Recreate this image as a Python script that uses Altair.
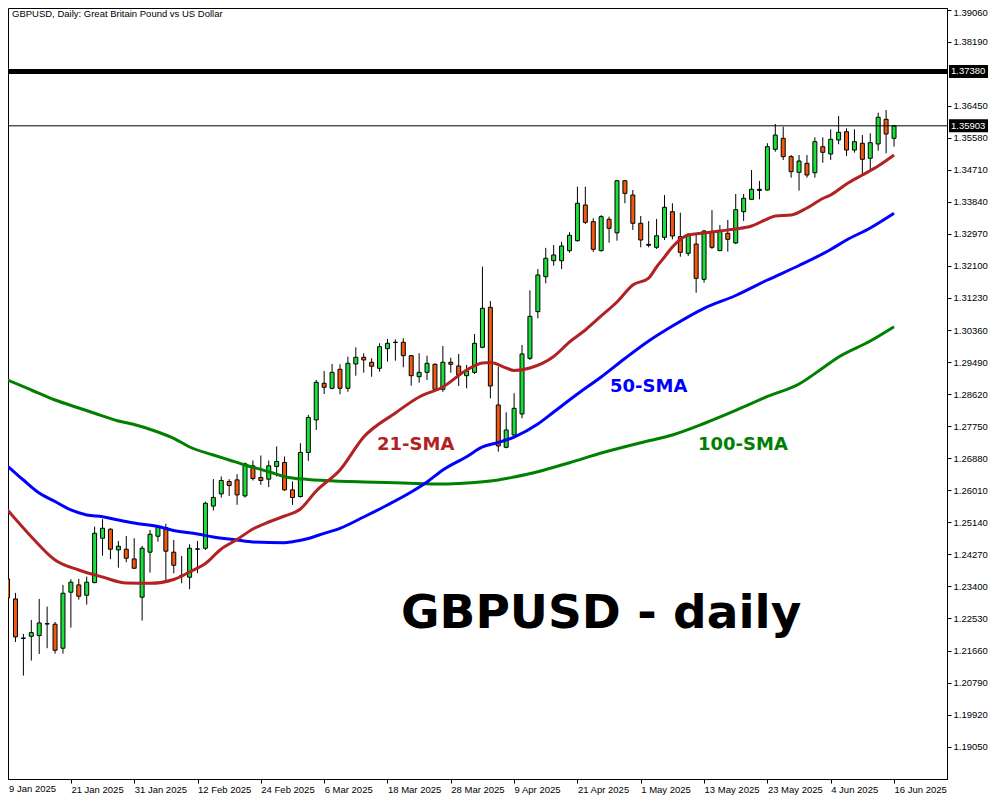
import altair as alt
import pandas as pd

# ---------------- data ----------------
date_labels = ["9 Jan 2025", "21 Jan 2025", "31 Jan 2025", "12 Feb 2025", "24 Feb 2025",
               "6 Mar 2025", "18 Mar 2025", "28 Mar 2025", "9 Apr 2025", "21 Apr 2025",
               "1 May 2025", "13 May 2025", "23 May 2025", "4 Jun 2025", "16 Jun 2025"]

opens = [1.23604, 1.23061, 1.21990, 1.22046, 1.22065, 1.22380, 1.22374, 1.21723, 1.23243, 1.23441,
         1.23161, 1.23503, 1.24708, 1.24953, 1.24391, 1.24410, 1.24146, 1.23107, 1.24330, 1.24763,
         1.24998, 1.24330, 1.23700, 1.23650, 1.24410, 1.24437, 1.25582, 1.25912, 1.26248, 1.26292,
         1.25858, 1.26673, 1.26358, 1.26312, 1.26656, 1.26765, 1.26022, 1.25841, 1.27036, 1.27920,
         1.28914, 1.28778, 1.29294, 1.28778, 1.29438, 1.29620, 1.29485, 1.29321, 1.29854, 1.30020,
         1.30027, 1.29664, 1.29093, 1.29212, 1.29430, 1.28751, 1.29485, 1.29384, 1.29120, 1.29212,
         1.29891, 1.30977, 1.28325, 1.27177, 1.27511, 1.28081, 1.29592, 1.30858, 1.31808, 1.32242,
         1.32242, 1.32514, 1.32785, 1.33754, 1.33302, 1.32514, 1.33366, 1.32998, 1.34413, 1.34025,
         1.33257, 1.32685, 1.32605, 1.32876, 1.33572, 1.32894, 1.32442, 1.32695, 1.31737, 1.33030,
         1.32514, 1.32985, 1.32722, 1.33572, 1.33908, 1.34150, 1.34161, 1.35266, 1.35564, 1.35065,
         1.34641, 1.34885, 1.34630, 1.35336, 1.35138, 1.35518, 1.35743, 1.35246, 1.35429, 1.35021,
         1.35410, 1.36080, 1.35564]
highs = [1.23658, 1.23224, 1.22111, 1.22491, 1.23061, 1.22852, 1.22437, 1.23441, 1.23595, 1.23604,
         1.23666, 1.25023, 1.25224, 1.24980, 1.24635, 1.24771, 1.24708, 1.24500, 1.24933, 1.25070,
         1.25100, 1.24662, 1.24228, 1.24545, 1.24635, 1.25700, 1.26314, 1.26384, 1.26311, 1.26446,
         1.26765, 1.26819, 1.26955, 1.26819, 1.27199, 1.26928, 1.26248, 1.27288, 1.28057, 1.29004,
         1.29248, 1.29438, 1.29430, 1.29637, 1.29891, 1.29729, 1.29593, 1.30000, 1.30117, 1.30108,
         1.30135, 1.29683, 1.29729, 1.29664, 1.29457, 1.29927, 1.29610, 1.29710, 1.29411, 1.30253,
         1.32079, 1.31148, 1.29365, 1.28127, 1.28643, 1.29954, 1.31438, 1.32017, 1.32590, 1.32668,
         1.32758, 1.33013, 1.34250, 1.34250, 1.33393, 1.33480, 1.33438, 1.34430, 1.34430, 1.34161,
         1.33456, 1.33316, 1.33374, 1.34025, 1.33800, 1.33545, 1.32985, 1.32940, 1.33076, 1.33615,
         1.33211, 1.33347, 1.34052, 1.34052, 1.34704, 1.34406, 1.35429, 1.35953, 1.35879, 1.35110,
         1.35110, 1.35110, 1.35591, 1.35591, 1.35808, 1.36169, 1.35836, 1.35808, 1.35654, 1.35700,
         1.36259, 1.36332, 1.35925]
lows = [1.23034, 1.21894, 1.20980, 1.21386, 1.21568, 1.21723, 1.21576, 1.21576, 1.22282, 1.23042,
        1.22906, 1.23487, 1.24236, 1.24138, 1.23910, 1.24057, 1.23875, 1.22472, 1.23774, 1.24616,
        1.23576, 1.23757, 1.23487, 1.23324, 1.23757, 1.24390, 1.25460, 1.25814, 1.25858, 1.25617,
        1.25814, 1.26276, 1.26157, 1.26095, 1.26384, 1.25995, 1.25613, 1.25814, 1.26808, 1.27647,
        1.28624, 1.28751, 1.28615, 1.28683, 1.29120, 1.29202, 1.29093, 1.29229, 1.29501, 1.29528,
        1.29349, 1.28849, 1.28931, 1.29004, 1.28733, 1.28683, 1.29202, 1.28841, 1.28778, 1.29166,
        1.29864, 1.28507, 1.27058, 1.27150, 1.27484, 1.27965, 1.29547, 1.30679, 1.31628, 1.32106,
        1.32017, 1.32459, 1.32758, 1.33238, 1.32480, 1.32487, 1.32730, 1.32785, 1.33800, 1.33076,
        1.32605, 1.32605, 1.32560, 1.32804, 1.32822, 1.32350, 1.32369, 1.31374, 1.31645, 1.32560,
        1.32505, 1.32487, 1.32695, 1.33320, 1.33890, 1.33908, 1.34143, 1.35201, 1.34975, 1.34495,
        1.34143, 1.34495, 1.34495, 1.34901, 1.34976, 1.35402, 1.35084, 1.35174, 1.34595, 1.34685,
        1.35228, 1.35157, 1.35336]
closes = [1.23088, 1.22030, 1.22000, 1.22146, 1.22409, 1.22390, 1.21668, 1.23215, 1.23514, 1.23134,
          1.23514, 1.24844, 1.24980, 1.24410, 1.24491, 1.24165, 1.23894, 1.24437, 1.24817, 1.25007,
          1.24357, 1.23975, 1.23690, 1.24437, 1.24420, 1.25658, 1.25816, 1.26276, 1.26140, 1.25885,
          1.26727, 1.26331, 1.26276, 1.26673, 1.26792, 1.26022, 1.25814, 1.27036, 1.27986, 1.28941,
          1.28805, 1.29212, 1.28778, 1.29457, 1.29620, 1.29547, 1.29376, 1.29908, 1.30000, 1.30030,
          1.29664, 1.29120, 1.29212, 1.29457, 1.28751, 1.29485, 1.29430, 1.29140, 1.29248, 1.30000,
          1.30950, 1.28841, 1.27213, 1.27647, 1.28235, 1.29710, 1.30732, 1.31854, 1.32307, 1.32397,
          1.32641, 1.32931, 1.33800, 1.33284, 1.32551, 1.33438, 1.33122, 1.34413, 1.34070, 1.33257,
          1.32804, 1.32660, 1.32920, 1.33691, 1.32912, 1.32469, 1.32958, 1.31764, 1.33048, 1.32605,
          1.33048, 1.32822, 1.33626, 1.33936, 1.34180, 1.34180, 1.35336, 1.35654, 1.35065, 1.34658,
          1.34948, 1.34568, 1.35472, 1.35184, 1.35537, 1.35727, 1.35246, 1.35472, 1.34994, 1.35445,
          1.36135, 1.35681, 1.35903]

sma21_bar = [0, 3, 6, 9, 12, 15, 18, 21, 23, 25, 27, 29, 31, 33, 35, 37, 39, 42, 45, 49, 52, 55,
             58, 60, 61, 63, 64, 66, 69, 71, 73, 75, 77, 79, 81, 82, 83, 84, 86, 88, 90, 92, 94, 96,
             97, 99, 101, 103, 104, 106, 108, 110, 112]
sma21_val = [1.25475, 1.24750, 1.24118, 1.23846, 1.23656, 1.23493, 1.23485, 1.23588, 1.23792,
             1.24023, 1.24416, 1.24674, 1.24959, 1.25149, 1.25312, 1.25502, 1.25991, 1.26561,
             1.27456, 1.28108, 1.28542, 1.28814, 1.29275, 1.29465, 1.29479, 1.29329, 1.29261,
             1.29329, 1.29641, 1.30035, 1.30361, 1.30741, 1.31121, 1.31582, 1.31772, 1.32071,
             1.32342, 1.32614, 1.32939, 1.32994, 1.33048, 1.33102, 1.33184, 1.33374, 1.33455,
             1.33482, 1.33672, 1.33930, 1.34025, 1.34324, 1.34568, 1.34812, 1.35111]

sma50_bar = [0, 2, 4, 6, 8, 10, 12, 14, 16, 19, 21, 24, 26, 29, 31, 35, 36, 38, 40, 42, 45, 48,
             51, 53, 55, 58, 60, 62, 64, 67, 69, 72, 75, 78, 81, 84, 88, 92, 96, 100, 104, 106,
             109, 112]
sma50_val = [1.26669, 1.26289, 1.25936, 1.25706, 1.25475, 1.25339, 1.25293, 1.25203, 1.25122,
             1.25027, 1.24919, 1.24824, 1.24742, 1.24661, 1.24606, 1.24587, 1.24614, 1.24701,
             1.24842, 1.24978, 1.25285, 1.25611, 1.25963, 1.26235, 1.26561, 1.26922, 1.27185,
             1.27307, 1.27456, 1.27809, 1.28135, 1.28624, 1.29085, 1.29587, 1.30062, 1.30469,
             1.30950, 1.31297, 1.31718, 1.32111, 1.32546, 1.32804, 1.33129, 1.33528]

sma100_bar = [0, 3, 6, 9, 11, 14, 16, 19, 21, 23, 26, 28, 30, 33, 35, 38, 40, 45, 50, 55, 58, 62,
              64, 67, 71, 75, 80, 84, 88, 92, 96, 100, 103, 105, 109, 112]
sma100_val = [1.29003, 1.28732, 1.28461, 1.28244, 1.28100, 1.27891, 1.27796, 1.27592, 1.27421,
              1.27185, 1.26968, 1.26832, 1.26696, 1.26514, 1.26379, 1.26303, 1.26276, 1.26235,
              1.26208, 1.26181, 1.26208, 1.26289, 1.26371, 1.26514, 1.26759, 1.27022, 1.27302,
              1.27511, 1.27823, 1.28176, 1.28556, 1.28895, 1.29329, 1.29628, 1.30062, 1.30450]

y_tick_values = [1.19050, 1.19920, 1.20790, 1.21660, 1.22530, 1.23400, 1.24270, 1.25140,
                 1.26010, 1.26880, 1.27750, 1.28620, 1.29490, 1.30360, 1.31230, 1.32100,
                 1.32970, 1.33840, 1.34710, 1.35580, 1.36450, 1.38190, 1.39060]

level_line = [1.37380]
last_price = [1.35903]

# ---------------- styling ----------------
W, H = 939, 771
AXFONT = "Liberation Sans"
BULL, BEAR = "#19E03A", "#F2580F"

xs = alt.Scale(domain=[0.6875, 0.6875 + W / 8], nice=False, zero=False)
ys = alt.Scale(domain=[1.18173, 1.39101], nice=False, zero=False)

label_js = "[" + ",".join("'" + d + "'" for d in date_labels) + "]"
x_axis = alt.Axis(values=list(range(8, 8 * len(date_labels), 8)),
                  labelExpr=label_js + "[round(datum.value/8)]",
                  orient="bottom", title=None, grid=False, tickSize=4, labelAlign="left",
                  labelPadding=1, labelOverlap=False, labelBound=False,
                  labelFlush=False, labelFont=AXFONT, labelFontSize=9.5, labelColor="black",
                  domainColor="black", tickColor="black")
y_axis = alt.Axis(values=y_tick_values, format=".5f", orient="right", title=None, grid=False,
                  tickSize=4, labelPadding=2, labelOverlap=False, labelBound=False,
                  labelFont=AXFONT, labelFontSize=9.5, labelColor="black",
                  labelBaseline="middle", domainColor="black", tickColor="black",
                  labelOffset={"condition": {"test": "datum.value > 1.39", "value": 3},
                               "value": 0})

candles = pd.DataFrame({"bar": list(range(len(opens))), "open": opens, "high": highs,
                        "low": lows, "close": closes})
candles["dir"] = ["up" if c >= o else "down" for o, c in zip(opens, closes)]

X = alt.X("bar:Q", scale=xs, axis=x_axis)

wicks = alt.Chart(candles).mark_rule(color="black", strokeWidth=1, clip=True).encode(
    x=X, y=alt.Y("low:Q", scale=ys, axis=y_axis), y2="high:Q")
bodies = alt.Chart(candles).mark_bar(size=4, stroke="black", strokeWidth=1, clip=True).encode(
    x=X, y=alt.Y("open:Q", scale=ys, axis=y_axis), y2="close:Q",
    color=alt.Color("dir:N", scale=alt.Scale(domain=["up", "down"], range=[BULL, BEAR]),
                    legend=None))


def ma_layer(bars, vals, color):
    d = pd.DataFrame({"bar": bars, "v": vals})
    return alt.Chart(d).mark_line(color=color, strokeWidth=3, interpolate="monotone",
                                  clip=True).encode(
        x=X, y=alt.Y("v:Q", scale=ys, axis=y_axis))


ma21 = ma_layer(sma21_bar, sma21_val, "#B22222")
ma50 = ma_layer(sma50_bar, sma50_val, "#0000FF")
ma100 = ma_layer(sma100_bar, sma100_val, "#008000")

lvl_df = pd.DataFrame({"p": level_line})
last_df = pd.DataFrame({"p": last_price})
thick = alt.Chart(lvl_df).mark_rule(color="black", strokeWidth=5).encode(
    y=alt.Y("p:Q", scale=ys, axis=y_axis))
thin = alt.Chart(last_df).mark_rule(color="black", strokeWidth=1).encode(
    y=alt.Y("p:Q", scale=ys, axis=y_axis))

tags_df = pd.DataFrame({"p": level_line + last_price})
tags_df["lab"] = [f"{v:.5f}" for v in tags_df["p"]]
tag_box = alt.Chart(tags_df).transform_calculate(
    top="datum.p + 0.00177", bot="datum.p - 0.00177").mark_rect(color="black").encode(
    x=alt.value(W + 2), x2=alt.value(W + 41),
    y=alt.Y("top:Q", scale=ys, axis=y_axis), y2="bot:Q")
tag_txt = alt.Chart(tags_df).mark_text(align="left", baseline="middle", color="white",
                                       font=AXFONT, fontSize=9.5).encode(
    x=alt.value(W + 4), y=alt.Y("p:Q", scale=ys, axis=y_axis), text="lab:N")


def note(txt, x, y, size, color, bold, font, baseline="alphabetic"):
    return alt.Chart(pd.DataFrame({"t": [txt]})).mark_text(
        align="left", baseline=baseline, fontSize=size, color=color,
        fontWeight="bold" if bold else "normal", font=font).encode(
        x=alt.value(x), y=alt.value(y), text="t:N")


# first date label sits at the very left edge of the plot
first_date = note(date_labels[0], 1, H + 5, 9.5, "black", False, AXFONT, baseline="top")
header = note("GBPUSD, Daily:  Great Britain Pound vs US Dollar", 4, 9, 9.5, "black", False, AXFONT)
big = note("GBPUSD - daily", 393, 620, 47, "black", True, "DejaVu Sans")
lab21 = note("21-SMA", 369, 442, 18, "#B22222", True, "DejaVu Sans")
lab50 = note("50-SMA", 602, 384, 18, "#0000FF", True, "DejaVu Sans")
lab100 = note("100-SMA", 690, 442, 18, "#008000", True, "DejaVu Sans")

chart = alt.layer(
    wicks, bodies, ma100, ma50, ma21, thick, thin, tag_box, tag_txt,
    header, big, lab21, lab50, lab100, first_date
).properties(
    width=W, height=H, background="white",
    autosize=alt.AutoSizeParams(type="none"),
    padding={"left": 0, "top": 0, "right": 44, "bottom": 18},
).configure_view(stroke="black", strokeWidth=1)

chart.save("out.html", embed_options={"renderer": "svg", "actions": False})
